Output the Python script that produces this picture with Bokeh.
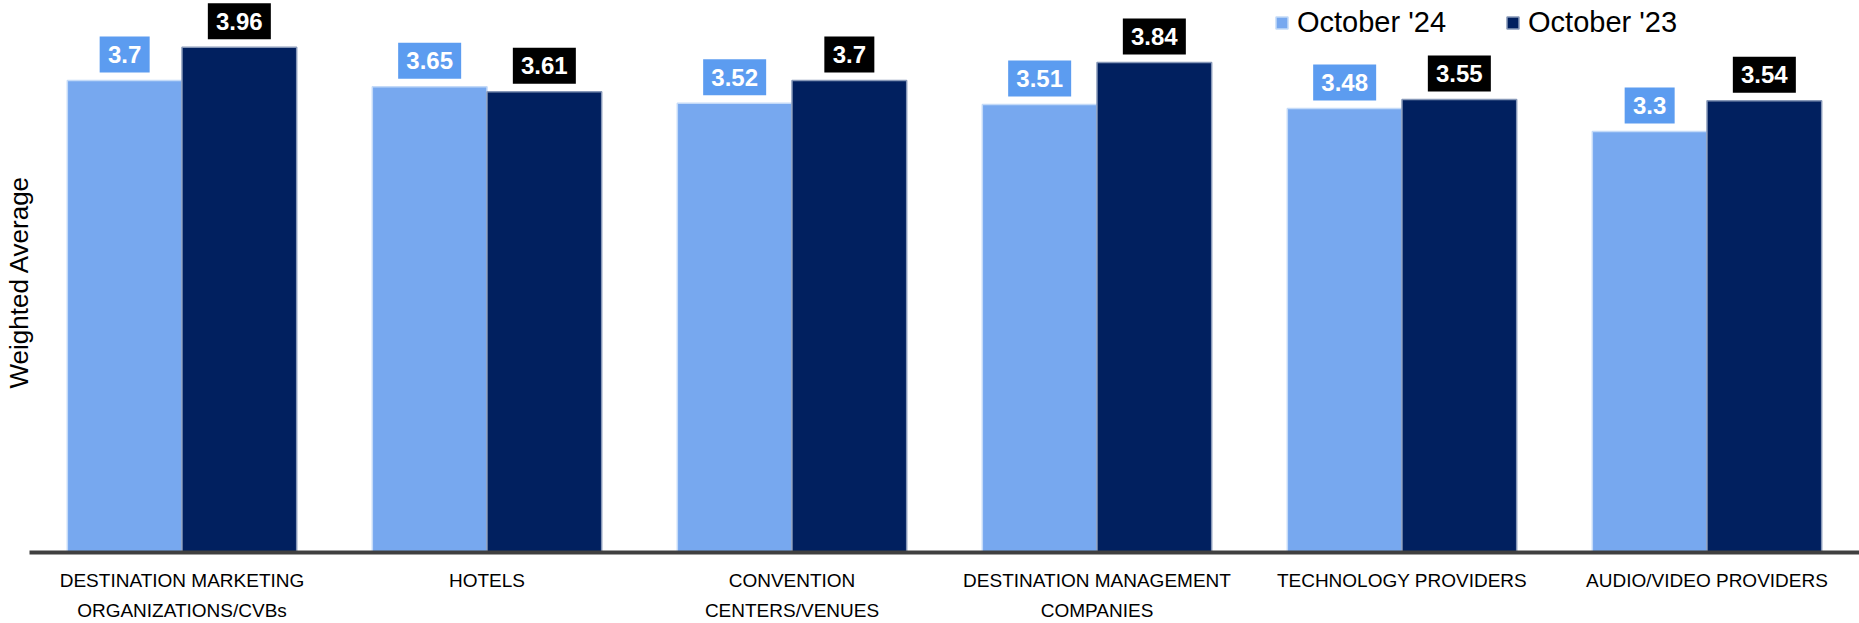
from bokeh.plotting import figure
from bokeh.models import ColumnDataSource, Range1d, FixedTicker, Legend, LegendItem
from bokeh.transform import dodge
from bokeh.core.properties import value
from bokeh.embed import file_html
from bokeh.resources import INLINE

# ---- data -------------------------------------------------------------
categories = [
    "DESTINATION MARKETING\nORGANIZATIONS/CVBs",
    "HOTELS",
    "CONVENTION\nCENTERS/VENUES",
    "DESTINATION MANAGEMENT\nCOMPANIES",
    "TECHNOLOGY PROVIDERS",
    "AUDIO/VIDEO PROVIDERS",
]
oct_24 = [3.7, 3.65, 3.52, 3.51, 3.48, 3.3]
oct_23 = [3.96, 3.61, 3.7, 3.84, 3.55, 3.54]
series_names = ["October '24", "October '23"]
y_title = "Weighted Average"

# ---- layout / style ---------------------------------------------------
W, H = 1859, 623
LEFT, BOTTOM = 29, 71            # room for the y title and category labels
FRAME_H = H - BOTTOM
Y_TOP = 4.326
PX_PER_UNIT = FRAME_H / Y_TOP
GROUP_PX = (W - LEFT) / len(categories)
BAR_W = 0.376
SHIFT = 0.188
LIFT_PX = 26          # value box centre above the bar top
BOX_H = 36
LINE1_PX, LINE2_PX = 17, 47   # top of each label row below the axis
FONT = "Liberation Sans"

LIGHT_BAR = "#77a8ef"
LIGHT_BOX = "#5c9cf0"
DARK_BAR = "#01205f"
DARK_BOX = "#000000"


def fmt(v):
    return f"{v:g}"


lift = LIFT_PX / PX_PER_UNIT
t24 = [fmt(v) for v in oct_24]
t23 = [fmt(v) for v in oct_23]
pos = list(range(len(categories)))
first_line = [c.split("\n")[0] for c in categories]
second_line = [c.split("\n")[1] if "\n" in c else "" for c in categories]

src = ColumnDataSource(dict(
    pos=pos,
    v24=oct_24,
    v23=oct_23,
    t24=t24,
    t23=t23,
    b24=[v + lift for v in oct_24],
    b23=[v + lift for v in oct_23],
    w24=[13 * len(t) + 11 for t in t24],
    w23=[13 * len(t) + 11 for t in t23],
))

x_start = -0.5 - LEFT / GROUP_PX
x_end = len(categories) - 0.5
p = figure(
    width=W, height=H,
    x_range=Range1d(x_start, x_end),
    y_range=Range1d(-BOTTOM / PX_PER_UNIT, Y_TOP),
    output_backend="svg",
    toolbar_location=None,
    min_border=0,
)
p.outline_line_color = None
p.background_fill_color = "white"
p.border_fill_color = "white"
p.xgrid.visible = False
p.ygrid.visible = False
p.yaxis.visible = False

# bars
r24 = p.vbar(x=dodge("pos", -SHIFT), top="v24", width=BAR_W, source=src,
             fill_color=LIGHT_BAR, line_color="#c4daf8", line_width=1.5)
r23 = p.vbar(x=dodge("pos", SHIFT), top="v23", width=BAR_W, source=src,
             fill_color=DARK_BAR, line_color="#8798b8", line_width=1.5)

# value boxes
p.rect(x=dodge("pos", -SHIFT), y="b24", width="w24", height=BOX_H,
       width_units="screen", height_units="screen", source=src,
       fill_color=LIGHT_BOX, line_color=None)
p.rect(x=dodge("pos", SHIFT), y="b23", width="w23", height=BOX_H,
       width_units="screen", height_units="screen", source=src,
       fill_color=DARK_BOX, line_color=None)
p.text(x=dodge("pos", -SHIFT), y="b24", text="t24", source=src,
       text_color="white", text_font=value(FONT), text_font_style="bold",
       text_font_size="24px", text_align="center", text_baseline="middle")
p.text(x=dodge("pos", SHIFT), y="b23", text="t23", source=src,
       text_color="white", text_font=value(FONT), text_font_style="bold",
       text_font_size="24px", text_align="center", text_baseline="middle")

# baseline axis at y = 0, spanning the category area
ax = p.xaxis[0]
ax.fixed_location = 0
ax.bounds = (-0.5, x_end)
ax.ticker = FixedTicker(ticks=[])
ax.axis_line_width = 4
ax.axis_line_color = "#404040"
ax.major_tick_line_color = None
ax.minor_tick_line_color = None

# category labels under the baseline, one text row per line
for lines, drop in ((first_line, LINE1_PX), (second_line, LINE2_PX)):
    keep = [i for i, t in enumerate(lines) if t]
    p.text(x=[pos[i] for i in keep], y=[-drop / PX_PER_UNIT] * len(keep),
           text=[lines[i] for i in keep],
           text_font=value(FONT), text_font_size="19px", text_color="black",
           text_align="center", text_baseline="top")

# y title
p.text(x=[-0.5 - 11 / GROUP_PX], y=[(FRAME_H - 281.5) / PX_PER_UNIT], text=[y_title],
       angle=90, angle_units="deg", text_font=value(FONT), text_font_size="26px",
       text_color="black", text_align="center", text_baseline="middle")

legend = Legend(
    items=[LegendItem(label=series_names[0], renderers=[r24]),
           LegendItem(label=series_names[1], renderers=[r23])],
    orientation="horizontal", location=(1274, H - 39),
    padding=0, margin=0, spacing=59, label_standoff=8,
    glyph_width=15, glyph_height=15,
    border_line_color=None, background_fill_alpha=0,
    label_text_font=FONT, label_text_font_size="29px", label_text_color="black",
)
p.add_layout(legend)

open("out.html", "w").write(file_html(p, INLINE))
